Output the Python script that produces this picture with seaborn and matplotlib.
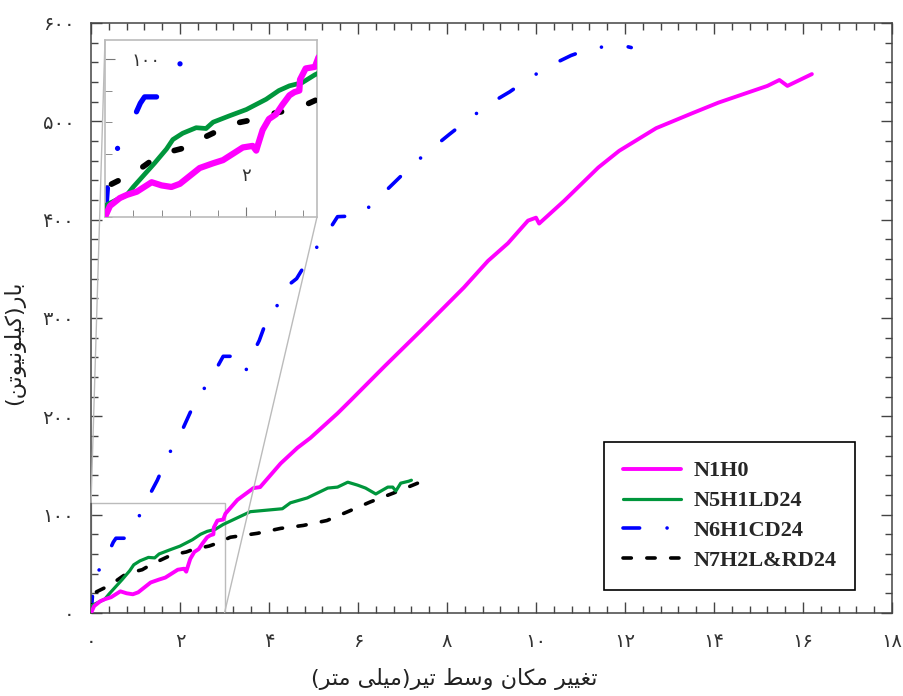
import matplotlib
matplotlib.use("Agg")
import matplotlib.pyplot as plt
from matplotlib.ticker import FixedLocator, MultipleLocator
from mpl_toolkits.axes_grid1.inset_locator import mark_inset
import seaborn as sns

# mid-span deflection (mm) and load (kN)
n1h0_x = [0, 0.02, 0.07, 0.21, 0.31, 0.45, 0.66, 0.8, 0.94, 1.06, 1.2, 1.34, 1.53, 1.67,
          1.81, 1.95, 2.09, 2.14, 2.16, 2.23, 2.32, 2.42, 2.51, 2.61, 2.68, 2.75, 2.76,
          2.84, 2.97, 3.02, 3.29, 3.65, 3.8, 4.26, 4.64, 4.93, 5.54, 5.83, 6.6, 7.41,
          8.38, 8.92, 9.37, 9.82, 10.0, 10.07, 10.63, 11.4, 11.87, 12.7, 13.5, 14.1,
          15.2, 15.47, 15.65, 16.2]
n1h0_y = [0, 2, 7, 12, 14, 16, 22, 20, 19, 21, 26, 31, 34, 36,
          40, 44, 45, 42, 45, 55, 62, 65, 71, 77, 79, 80, 87,
          94, 95, 101, 115, 127, 128, 152, 168, 178, 203, 216, 251, 287,
          331, 358, 376, 399, 402, 396, 419, 453, 470, 493, 508, 519,
          536, 542, 536, 548]

n5_x = [0, 0.02, 0.16, 0.31, 0.4, 0.54, 0.7, 0.87, 0.96, 1.1, 1.29, 1.43, 1.53, 1.76,
        2.0, 2.28, 2.46, 2.61, 2.79, 2.97, 3.58, 4.3, 4.48, 4.86, 5.32, 5.54, 5.77,
        5.99, 6.17, 6.4, 6.67, 6.78, 6.85, 6.96, 7.14, 7.2]
n5_y = [0, 7.6, 10.8, 14, 19, 26, 34, 43, 49, 53, 56.5, 56, 60, 64,
        68, 74.5, 80, 83, 85, 90, 103, 106, 112, 117, 127, 128, 133,
        130, 127, 121, 128, 128, 124, 132, 134, 135]

n6_x = [0, 0.02, 0.04, 0.08, 0.14, 0.25, 0.42, 0.5, 0.56, 0.75, 0.88, 1.0, 1.15, 1.28,
        1.49, 1.73, 2.03, 2.23, 2.54, 2.86, 2.97, 3.22, 3.3, 3.47, 3.56, 3.78, 3.99,
        4.39, 4.48, 4.62, 4.93, 5.3, 5.54, 6.04, 6.46, 6.8, 7.23, 7.68, 8.06, 8.54,
        9.0, 9.41, 9.89, 10.38, 10.79, 11.35, 11.76, 11.95, 12.14]
n6_y = [0, 10, 22, 30, 40, 50, 64, 72, 76, 76, 84, 92, 104, 117,
        135, 160, 184, 204, 228, 252, 261, 261, 250, 245, 257, 277, 303,
        323, 335, 340, 363, 386, 403, 404, 422, 437, 456, 473, 487, 504,
        519, 530, 545, 558, 567, 576, 574, 577, 575]

n7_x = [0, 0.01, 0.02, 0.1, 0.28, 0.45, 0.7, 0.8, 1.15, 1.34, 1.62, 1.81, 2.14, 2.32,
        2.65, 2.84, 3.13, 3.74, 4.26, 4.77, 5.3, 5.77, 6.28, 6.8, 7.34]
n7_y = [0, 11, 19, 21, 25, 29, 37, 40, 44, 49, 55, 59, 62, 65,
        68, 71, 77, 81, 86, 89, 94, 103, 113, 122, 132]

series_names = ["N1H0", "N5H1LD24", "N6H1CD24", "N7H2L&RD24"]
series_colors = ["#ff00ff", "#00963c", "#0000ff", "#000000"]

x_ticks = [0, 2, 4, 6, 8, 10, 12, 14, 16, 18]
x_tick_labels = ["۰", "۲", "۴", "۶", "۸", "۱۰", "۱۲", "۱۴", "۱۶", "۱۸"]
y_ticks = [0, 100, 200, 300, 400, 500, 600]
y_tick_labels = ["۰", "۱۰۰", "۲۰۰", "۳۰۰", "۴۰۰", "۵۰۰", "۶۰۰"]

x_label = "تغییر مکان وسط تیر(میلی متر)"
y_label = "بار(کیلونیوتن)"

# matplotlib does no arabic shaping, so pick presentation forms by hand
FORMS = {
    "ا": ("\ufe8d", "\ufe8e", None, None),
    "ب": ("\ufe8f", "\ufe90", "\ufe91", "\ufe92"),
    "ت": ("\ufe95", "\ufe96", "\ufe97", "\ufe98"),
    "ر": ("\ufead", "\ufeae", None, None),
    "س": ("\ufeb1", "\ufeb2", "\ufeb3", "\ufeb4"),
    "ط": ("\ufec1", "\ufec2", "\ufec3", "\ufec4"),
    "غ": ("\ufecd", "\ufece", "\ufecf", "\ufed0"),
    "ل": ("\ufedd", "\ufede", "\ufedf", "\ufee0"),
    "م": ("\ufee1", "\ufee2", "\ufee3", "\ufee4"),
    "ن": ("\ufee5", "\ufee6", "\ufee7", "\ufee8"),
    "و": ("\ufeed", "\ufeee", None, None),
    "ک": ("\ufb8e", "\ufb8f", "\ufb90", "\ufb91"),
    "ی": ("\ufbfc", "\ufbfd", "\ufbfe", "\ufbff"),
}


def rtl(text):
    out = []
    for i, c in enumerate(text):
        if c not in FORMS:
            out.append(c)
            continue
        prev = text[i - 1] if i > 0 else ""
        nxt = text[i + 1] if i + 1 < len(text) else ""
        iso, fin, ini, med = FORMS[c]
        join_prev = prev in FORMS and FORMS[prev][2] is not None
        join_next = nxt in FORMS and ini is not None
        if join_prev and join_next:
            out.append(med)
        elif join_prev:
            out.append(fin)
        elif join_next:
            out.append(ini)
        else:
            out.append(iso)
    mirror = {"(": ")", ")": "("}
    return "".join(mirror.get(c, c) for c in reversed(out))


sns.set_style("ticks")
plt.rcParams["font.family"] = ["DejaVu Sans"]

fig = plt.figure(figsize=(9.04, 6.96), dpi=100)
ax = fig.add_axes([0.1007, 0.1193, 0.886, 0.8477])
axins = fig.add_axes([105 / 904, 1 - 217 / 696, 212 / 904, 177 / 696])

all_x = [n1h0_x, n5_x, n6_x, n7_x]
all_y = [n1h0_y, n5_y, n6_y, n7_y]
main_lw = [2.8, 2.3, 2.6, 2.6]
inset_lw = [4.5, 3.4, 3.8, 4.1]
main_ls = ["-", "-", (0, (4.6, 7.6, 0.01, 7.6)), (0, (2.3, 4.3))]
inset_ls = ["-", "-", (0, (5.5, 7.8, 0.01, 7.8)), (0, (1.3, 5.0))]
zorders = [5, 4, 2, 3]

for i, name in enumerate(series_names):
    style = dict(color=series_colors[i], sort=False, estimator=None,
                 solid_capstyle="round", dash_capstyle="round",
                 solid_joinstyle="round", zorder=zorders[i])
    sns.lineplot(x=all_x[i], y=all_y[i], ax=ax, lw=main_lw[i],
                 linestyle=main_ls[i], label=name, **style)
    sns.lineplot(x=all_x[i], y=all_y[i], ax=axins, lw=inset_lw[i],
                 linestyle=inset_ls[i], legend=False, **style)

# main axes
ax.set_xlim(0, 18)
ax.set_ylim(0, 600)
ax.xaxis.set_major_locator(FixedLocator(x_ticks))
ax.set_xticklabels(x_tick_labels)
ax.yaxis.set_major_locator(FixedLocator(y_ticks))
ax.set_yticklabels(y_tick_labels)
ax.xaxis.set_minor_locator(MultipleLocator(0.4))
ax.yaxis.set_minor_locator(MultipleLocator(20))
ax.tick_params(which="both", direction="in", top=True, right=True,
               color="#444444", width=1.0, labelcolor="#333333", labelsize=14)
ax.tick_params(which="major", length=8)
ax.tick_params(which="minor", length=5)
ax.tick_params(axis="x", pad=14)
ax.tick_params(axis="y", pad=12)
for sp in ax.spines.values():
    sp.set_color("#444444")
    sp.set_linewidth(1.1)

ax.set_xlabel(rtl(x_label), fontsize=16, color="#222222")
ax.set_ylabel(rtl(y_label), fontsize=16, color="#222222")
ax.xaxis.set_label_coords(0.453, -0.093)
ax.yaxis.set_label_coords(-0.082, 0.458)

leg = ax.legend(loc="lower right", bbox_to_anchor=(0.954, 0.039),
                prop=dict(family="Liberation Serif", weight="bold", size=16),
                frameon=True, fancybox=False, edgecolor="black", framealpha=1,
                borderpad=0.85, labelspacing=0.42, handlelength=2.6,
                handletextpad=0.55, borderaxespad=0)
leg.get_frame().set_linewidth(1.2)

# zoomed inset of the first 3 mm
axins.set_xlim(0, 3)
axins.set_ylim(0, 112)
axins.xaxis.set_major_locator(FixedLocator([2]))
axins.set_xticklabels([x_tick_labels[1]])
axins.yaxis.set_major_locator(FixedLocator([100]))
axins.set_yticklabels([y_tick_labels[1]])
axins.xaxis.set_minor_locator(MultipleLocator(0.4))
axins.yaxis.set_minor_locator(MultipleLocator(20))
axins.tick_params(which="both", direction="in", color="#777777",
                  labelcolor="#333333", labelsize=13)
axins.tick_params(which="major", length=7)
axins.tick_params(which="minor", length=5)
axins.tick_params(axis="x", pad=-36)
axins.tick_params(axis="y", pad=-40)
axins.set_xlabel("")
axins.set_ylabel("")
for sp in axins.spines.values():
    sp.set_color("#bbbbbb")
    sp.set_linewidth(1.2)

mark_inset(ax, axins, loc1=2, loc2=4, fc="none", ec="#bbbbbb", lw=1.0)

fig.savefig("out.png", dpi=100)
